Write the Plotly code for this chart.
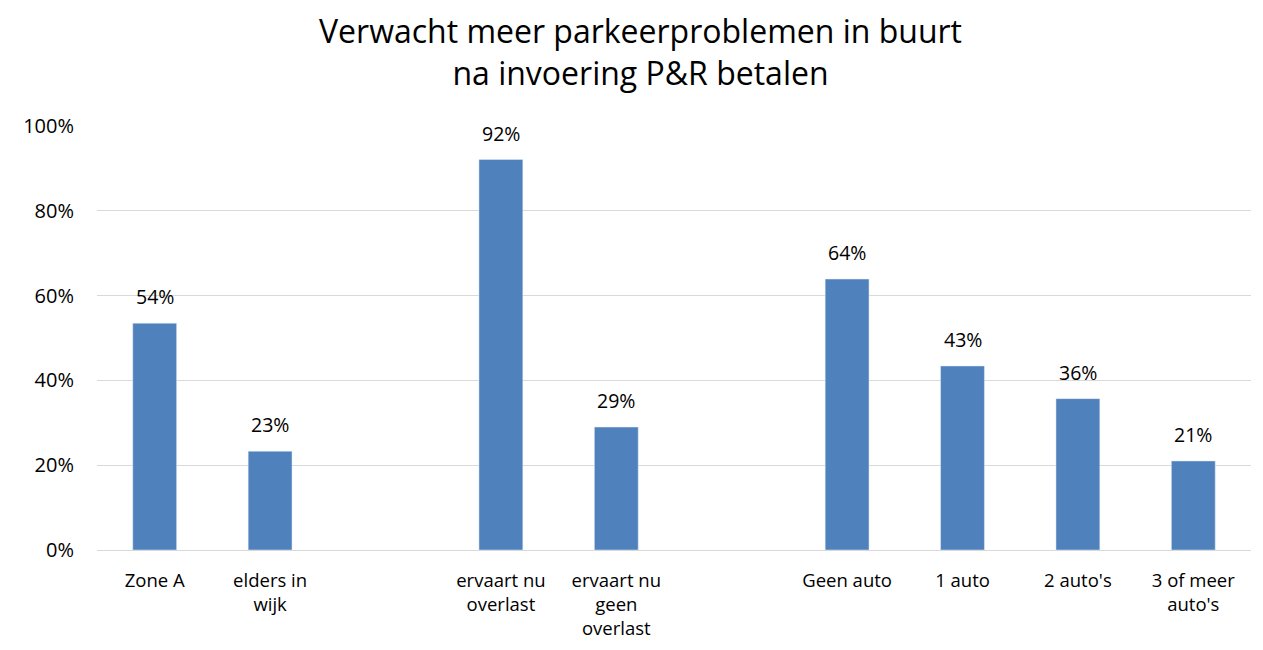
import plotly.graph_objects as go

# categorieen (lege plekken scheiden de groepen)
categorieen = ["Zone A", "elders in<br>wijk", " ",
               "ervaart nu<br>overlast", "ervaart nu<br>geen<br>overlast", "  ",
               "Geen auto", "1 auto", "2 auto's", "3 of meer<br>auto's"]
waarden = [0.535, 0.233, None, 0.921, 0.290, None, 0.639, 0.434, 0.357, 0.210]
labels = ["54%", "23%", "", "92%", "29%", "", "64%", "43%", "36%", "21%"]

blauw = "#4f81bd"
lettertype = "Open Sans"

fig = go.Figure()
fig.add_trace(go.Bar(x=categorieen, y=waarden, marker_color=blauw, width=0.38))

for cat, w, lab in zip(categorieen, waarden, labels):
    if w is None:
        continue
    fig.add_annotation(x=cat, y=w, text=lab, showarrow=False, yanchor="bottom", yshift=11,
                       font=dict(size=19.5, color="#000000", family=lettertype))

# titel als annotatie boven het plotgebied
fig.add_annotation(text="Verwacht meer parkeerproblemen in buurt<br>na invoering P&R betalen",
                   xref="paper", yref="paper", x=0.471, y=1.176, xanchor="center", yanchor="middle",
                   showarrow=False, borderpad=0,
                   font=dict(size=32, color="#000000", family=lettertype))

fig.update_layout(
    width=1247, height=634,
    margin=dict(l=89, r=4, t=118, b=92),
    plot_bgcolor="white", paper_bgcolor="white",
    showlegend=False,
    font=dict(family=lettertype, size=18, color="#000000"),
)
fig.update_yaxes(range=[0, 1], tickformat=".0%", dtick=0.2, gridcolor="#d9d9d9", gridwidth=1.3,
                 zeroline=False, showline=False, ticks="", ticklabelstandoff=22,
                 tickfont=dict(size=20, family=lettertype))
fig.update_xaxes(showline=True, linecolor="#d9d9d9", linewidth=1.3, ticks="",
                 ticklabelstandoff=14, automargin=False,
                 tickfont=dict(size=18.5, family=lettertype), tickangle=0)

fig.write_html("out.html")
